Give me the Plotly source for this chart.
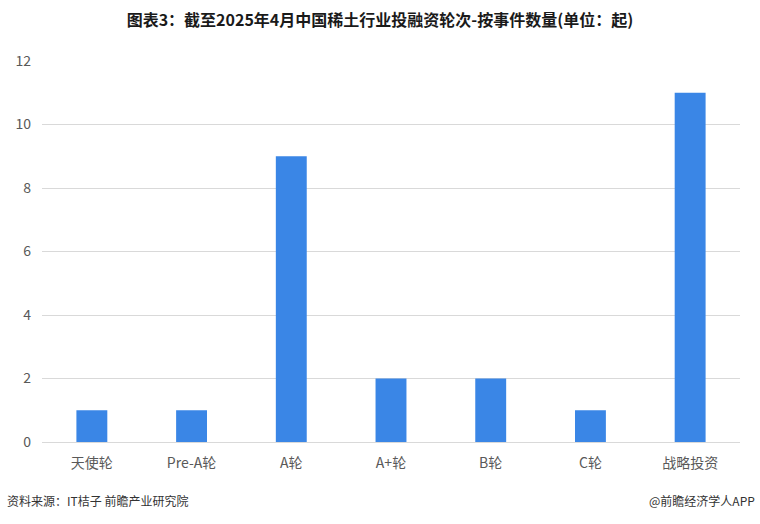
import plotly.graph_objects as go

categories = ["天使轮", "Pre-A轮", "A轮", "A+轮", "B轮", "C轮", "战略投资"]
values = [1, 1, 9, 2, 2, 1, 11]
y_ticks = [0, 2, 4, 6, 8, 10, 12]

fig = go.Figure()
fig.add_trace(go.Bar(
    x=categories, y=values,
    marker=dict(color="#3A86E6", line=dict(width=0)),
    width=0.31,
))

fig.update_layout(
    width=760, height=524,
    margin=dict(l=42, r=20, t=61, b=82, autoexpand=False),
    paper_bgcolor="white", plot_bgcolor="white",
    showlegend=False,
    font=dict(family="Noto Sans CJK SC, Noto Sans, sans-serif", color="#595959", size=14),
    title=dict(
        text="<b>图表3：截至2025年4月中国稀土行业投融资轮次-按事件数量(单位：起)</b>",
        x=0.5, xanchor="center", y=0.962, yanchor="middle",
        font=dict(size=16, color="#1a1a1a", family="Noto Sans CJK SC, sans-serif"),
    ),
    xaxis=dict(
        showgrid=False, showline=True, linecolor="#d9d9d9", linewidth=1,
        ticks="", tickfont=dict(size=14, color="#595959"), automargin=False,
        ticklabelstandoff=8,
    ),
    yaxis=dict(
        range=[0, 12], tickvals=y_ticks, showgrid=True, gridcolor="#d9d9d9",
        gridwidth=1, zeroline=False, ticks="", tickfont=dict(size=14, color="#595959"),
        ticklabelstandoff=10, automargin=False,
    ),
)

fig.add_annotation(
    text="资料来源：IT桔子 前瞻产业研究院", xref="paper", yref="paper",
    x=-37/698, y=-(500-442)/381, xanchor="left", yanchor="middle", showarrow=False,
    font=dict(size=12, color="#333333"),
)
fig.add_annotation(
    text="@前瞻经济学人APP", xref="paper", yref="paper",
    x=(757-42)/698, y=-(500-442)/381, xanchor="right", yanchor="middle", showarrow=False,
    font=dict(size=12, color="#333333"),
)

fig.write_html("out.html", config={"displayModeBar": False},
               post_script="document.body.style.margin='0';")
